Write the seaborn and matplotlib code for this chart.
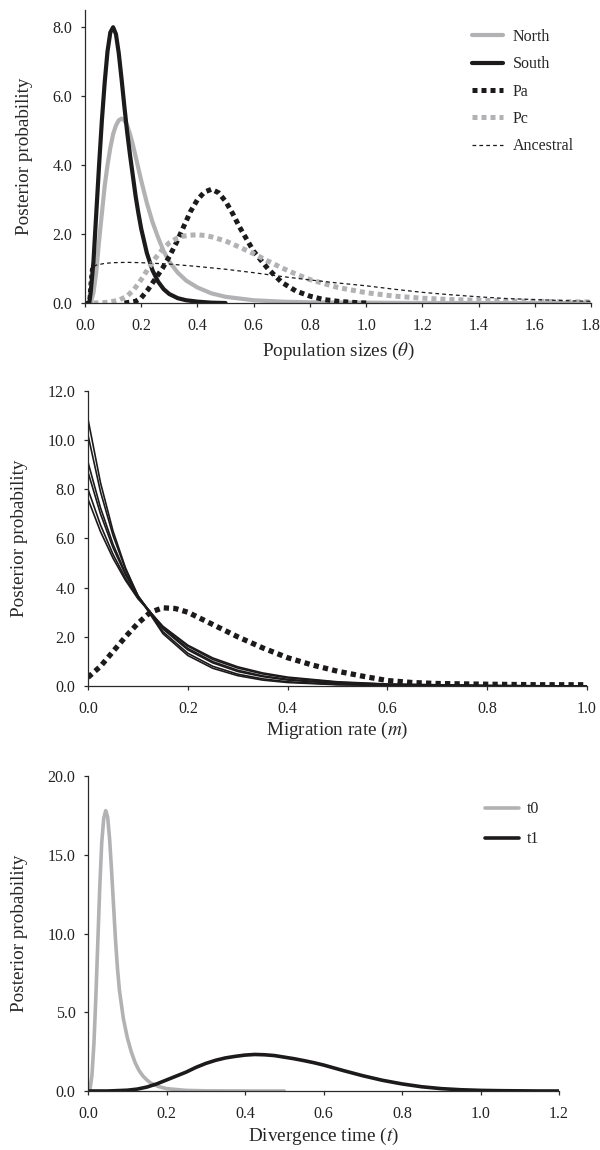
import matplotlib
matplotlib.use("Agg")
import matplotlib.pyplot as plt
from matplotlib.ticker import FormatStrFormatter, MultipleLocator
import seaborn as sns

# ---------------- Panel 1: population sizes (theta) ----------------
north_x = [0.0, 0.02, 0.03, 0.04, 0.05, 0.06, 0.07, 0.08, 0.09, 0.10, 0.11, 0.12, 0.13, 0.14,
           0.15, 0.16, 0.17, 0.18, 0.20, 0.22, 0.24, 0.26, 0.28, 0.30, 0.33, 0.36, 0.40, 0.45,
           0.50, 0.60, 0.70, 0.80, 1.00, 1.20, 1.40, 1.60, 1.80]
north_y = [0.0, 0.0, 0.3, 0.9, 1.8, 2.6, 3.4, 4.0, 4.5, 4.9, 5.15, 5.3, 5.35, 5.3,
           5.15, 4.9, 4.6, 4.25, 3.55, 2.9, 2.35, 1.9, 1.5, 1.2, 0.88, 0.65, 0.45, 0.28,
           0.18, 0.08, 0.04, 0.02, 0.01, 0.0, 0.0, 0.0, 0.0]

south_x = [0.0, 0.015, 0.02, 0.03, 0.04, 0.05, 0.06, 0.07, 0.08, 0.09, 0.10, 0.11, 0.12, 0.13,
           0.14, 0.15, 0.16, 0.17, 0.18, 0.19, 0.20, 0.22, 0.24, 0.26, 0.28, 0.30, 0.33, 0.36,
           0.40, 0.45, 0.50]
south_y = [0.0, 0.0, 0.3, 1.2, 2.6, 4.0, 5.3, 6.4, 7.3, 7.85, 8.0, 7.8, 7.25, 6.5,
           5.7, 4.95, 4.3, 3.7, 3.1, 2.6, 2.15, 1.45, 0.95, 0.62, 0.4, 0.26, 0.14, 0.08,
           0.04, 0.01, 0.0]

pa_x = [0.14, 0.18, 0.20, 0.225, 0.25, 0.275, 0.30, 0.325, 0.35, 0.375, 0.40, 0.425, 0.45,
        0.475, 0.50, 0.525, 0.55, 0.575, 0.60, 0.65, 0.70, 0.75, 0.80, 0.85, 0.90, 0.95, 1.00]
pa_y = [0.0, 0.05, 0.15, 0.4, 0.7, 1.0, 1.35, 1.75, 2.2, 2.65, 3.0, 3.22, 3.3,
        3.2, 2.95, 2.6, 2.2, 1.85, 1.5, 1.0, 0.6, 0.35, 0.2, 0.1, 0.05, 0.02, 0.0]

pc_x = [0.03, 0.08, 0.12, 0.15, 0.175, 0.20, 0.225, 0.25, 0.275, 0.30, 0.325, 0.35, 0.375,
        0.40, 0.425, 0.45, 0.50, 0.55, 0.60, 0.65, 0.70, 0.75, 0.80, 0.90, 1.00, 1.10, 1.20,
        1.30, 1.40, 1.50, 1.60, 1.70, 1.80]
pc_y = [0.0, 0.02, 0.08, 0.2, 0.4, 0.68, 1.0, 1.3, 1.55, 1.75, 1.87, 1.94, 1.97,
        1.98, 1.96, 1.92, 1.8, 1.62, 1.43, 1.22, 1.02, 0.84, 0.68, 0.45, 0.3, 0.2, 0.14,
        0.1, 0.08, 0.06, 0.05, 0.04, 0.03]

anc_x = [0.0, 0.01, 0.015, 0.02, 0.04, 0.07, 0.10, 0.15, 0.20, 0.30, 0.40, 0.50, 0.60, 0.70,
         0.80, 0.90, 1.00, 1.10, 1.20, 1.30, 1.40, 1.50, 1.60, 1.70, 1.80]
anc_y = [0.0, 0.0, 0.6, 1.0, 1.1, 1.15, 1.17, 1.18, 1.17, 1.13, 1.06, 0.98, 0.88, 0.77,
         0.67, 0.58, 0.5, 0.4, 0.31, 0.24, 0.18, 0.13, 0.1, 0.07, 0.05]

theta_labels = ["North", "South", "Pa", "Pc", "Ancestral"]

# ---------------- Panel 2: migration rate (m) ----------------
mig_x = [0.0, 0.025, 0.05, 0.075, 0.10, 0.15, 0.20, 0.25, 0.30, 0.35, 0.40, 0.50, 0.60, 0.80, 1.00]
mig_1 = [10.85, 8.27, 6.31, 4.81, 3.67, 2.13, 1.24, 0.72, 0.42, 0.24, 0.14, 0.05, 0.02, 0.0, 0.0]
mig_2 = [10.2, 7.90, 6.13, 4.75, 3.68, 2.21, 1.33, 0.80, 0.48, 0.29, 0.17, 0.06, 0.02, 0.0, 0.0]
mig_3 = [9.1, 7.25, 5.77, 4.60, 3.66, 2.32, 1.47, 0.94, 0.59, 0.38, 0.24, 0.10, 0.04, 0.01, 0.0]
mig_4 = [8.7, 7.00, 5.63, 4.53, 3.65, 2.36, 1.53, 0.99, 0.64, 0.41, 0.27, 0.11, 0.05, 0.01, 0.0]
mig_5 = [8.0, 6.55, 5.36, 4.39, 3.59, 2.41, 1.62, 1.08, 0.73, 0.49, 0.33, 0.15, 0.07, 0.01, 0.0]
mig_6 = [7.6, 6.28, 5.20, 4.30, 3.55, 2.43, 1.66, 1.14, 0.78, 0.53, 0.36, 0.17, 0.08, 0.02, 0.0]

migd_x = [0.0, 0.025, 0.05, 0.075, 0.10, 0.125, 0.15, 0.175, 0.20, 0.25, 0.30, 0.35, 0.40,
          0.45, 0.50, 0.55, 0.60, 0.65, 0.70, 0.80, 0.90, 1.00]
migd_y = [0.35, 0.8, 1.4, 2.0, 2.55, 3.0, 3.18, 3.15, 3.0, 2.5, 2.0, 1.55, 1.15,
          0.85, 0.6, 0.4, 0.22, 0.14, 0.1, 0.07, 0.05, 0.05]

# ---------------- Panel 3: divergence time (t) ----------------
t0_x = [0.0, 0.005, 0.01, 0.015, 0.02, 0.025, 0.03, 0.035, 0.04, 0.045, 0.05, 0.055, 0.06,
        0.065, 0.07, 0.075, 0.08, 0.09, 0.10, 0.11, 0.12, 0.13, 0.14, 0.15, 0.16, 0.18, 0.20,
        0.25, 0.30, 0.40, 0.50]
t0_y = [0.0, 0.1, 1.0, 3.0, 6.0, 9.5, 13.0, 15.8, 17.3, 17.8, 17.4, 16.0, 14.0,
        11.8, 9.6, 7.8, 6.4, 4.6, 3.4, 2.5, 1.8, 1.3, 0.95, 0.7, 0.5, 0.28, 0.15,
        0.04, 0.01, 0.0, 0.0]

t1_x = [0.0, 0.05, 0.10, 0.125, 0.15, 0.175, 0.20, 0.225, 0.25, 0.275, 0.30, 0.325, 0.35,
        0.375, 0.40, 0.425, 0.45, 0.475, 0.50, 0.525, 0.55, 0.575, 0.60, 0.65, 0.70, 0.75,
        0.80, 0.85, 0.90, 0.95, 1.00, 1.05, 1.10, 1.15, 1.20]
t1_y = [0.0, 0.0, 0.05, 0.12, 0.25, 0.45, 0.7, 0.95, 1.2, 1.5, 1.75, 1.95, 2.1,
        2.2, 2.28, 2.32, 2.3, 2.25, 2.15, 2.05, 1.93, 1.8, 1.65, 1.3, 0.97, 0.68,
        0.45, 0.27, 0.15, 0.08, 0.04, 0.02, 0.01, 0.0, 0.0]

t_labels = ["t0", "t1"]

# ---------------- Style ----------------
sns.set_style("ticks")
plt.rcParams['font.family'] = ['Liberation Serif', 'DejaVu Serif']
plt.rcParams['mathtext.fontset'] = 'stix'

GREY = '#b2b2b4'
BLACK = '#1c1a1b'
AXC = '#2a2a2a'
TICK_FS = 11.5
LAB_FS = 13.8
DOT = (0, (1, 0.8))

fig = plt.figure(figsize=(6, 11.5), dpi=100)
ax1 = fig.add_axes([0.1417, 0.7365, 0.8433, 0.2548])
ax2 = fig.add_axes([0.1467, 0.4035, 0.8317, 0.2565])
ax3 = fig.add_axes([0.1467, 0.0513, 0.7850, 0.2739])

# Panel 1
sns.lineplot(x=north_x, y=north_y, ax=ax1, color=GREY, lw=3.0, label=theta_labels[0], sort=False)
sns.lineplot(x=south_x, y=south_y, ax=ax1, color=BLACK, lw=3.0, label=theta_labels[1], sort=False)
sns.lineplot(x=pa_x, y=pa_y, ax=ax1, color=BLACK, lw=3.6, linestyle=DOT, label=theta_labels[2], sort=False)
sns.lineplot(x=pc_x, y=pc_y, ax=ax1, color=GREY, lw=3.6, linestyle=DOT, label=theta_labels[3], sort=False)
sns.lineplot(x=anc_x, y=anc_y, ax=ax1, color=BLACK, lw=0.9, linestyle=(0, (3, 2.5)), label=theta_labels[4], sort=False)
ax1.set_xlim(0, 1.8)
ax1.set_ylim(0, 8.5)
ax1.xaxis.set_major_locator(MultipleLocator(0.2))
ax1.yaxis.set_major_locator(MultipleLocator(2.0))
ax1.set_xlabel(r"Population sizes ($\theta$)", fontsize=LAB_FS, labelpad=4.5)
ax1.legend(loc='upper left', bbox_to_anchor=(0.765, 0.935), frameon=False, fontsize=TICK_FS,
           handlelength=1.95, handletextpad=0.6, labelspacing=0.71, borderpad=0, borderaxespad=0)

# Panel 2
for ys in [mig_1, mig_2, mig_3, mig_4, mig_5, mig_6]:
    sns.lineplot(x=mig_x, y=ys, ax=ax2, color=BLACK, lw=1.2, sort=False)
sns.lineplot(x=migd_x, y=migd_y, ax=ax2, color=BLACK, lw=3.8, linestyle=DOT, sort=False)
ax2.set_xlim(0, 1.0)
ax2.set_ylim(0, 12.0)
ax2.xaxis.set_major_locator(MultipleLocator(0.2))
ax2.yaxis.set_major_locator(MultipleLocator(2.0))
ax2.set_xlabel(r"Migration rate ($m$)", fontsize=LAB_FS, labelpad=2)
if ax2.get_legend() is not None:
    ax2.get_legend().remove()

# Panel 3
sns.lineplot(x=t0_x, y=t0_y, ax=ax3, color=GREY, lw=2.6, label=t_labels[0], sort=False)
sns.lineplot(x=t1_x, y=t1_y, ax=ax3, color=BLACK, lw=2.6, label=t_labels[1], sort=False)
ax3.set_xlim(0, 1.2)
ax3.set_ylim(0, 20.0)
ax3.xaxis.set_major_locator(MultipleLocator(0.2))
ax3.yaxis.set_major_locator(MultipleLocator(5.0))
ax3.set_xlabel(r"Divergence time ($t$)", fontsize=LAB_FS, labelpad=2.5)
ax3.legend(loc='upper left', bbox_to_anchor=(0.843, 0.92), frameon=False, fontsize=TICK_FS,
           handlelength=2.1, handletextpad=0.5, labelspacing=0.87, borderpad=0, borderaxespad=0)

for ax in (ax1, ax2, ax3):
    ax.set_ylabel("Posterior probability", fontsize=LAB_FS, labelpad=14.5)
    ax.xaxis.set_major_formatter(FormatStrFormatter('%.1f'))
    ax.yaxis.set_major_formatter(FormatStrFormatter('%.1f'))
    ax.tick_params(axis='both', direction='out', length=3, width=0.9, colors=AXC,
                   labelsize=TICK_FS, labelcolor='#222222')
    ax.tick_params(axis='x', pad=8)
    ax.tick_params(axis='y', pad=6)
    for side in ('top', 'right'):
        ax.spines[side].set_visible(False)
    for side in ('left', 'bottom'):
        ax.spines[side].set_color(AXC)
        ax.spines[side].set_linewidth(0.9)
    ax.set_facecolor('white')
    ax.margins(0)

fig.savefig("out.png", dpi=100, facecolor='white')
